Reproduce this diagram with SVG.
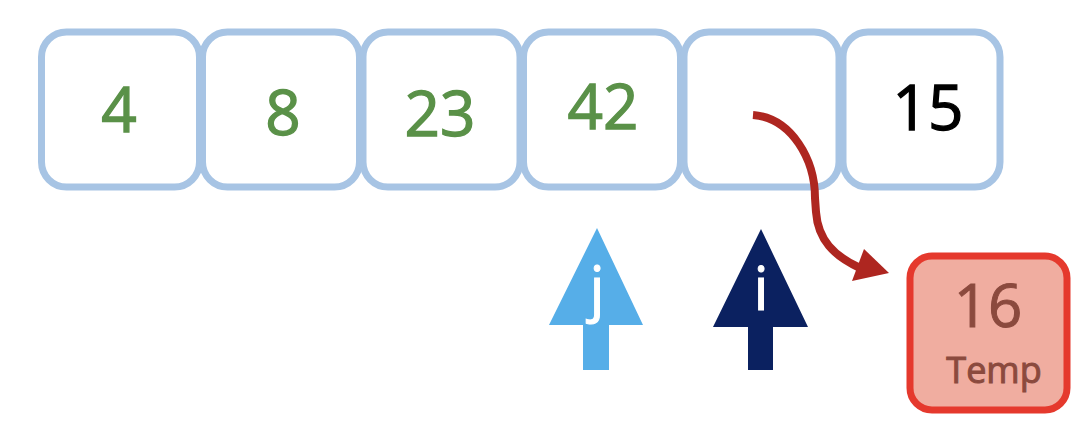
<svg xmlns="http://www.w3.org/2000/svg" width="1090" height="442" viewBox="0 0 1090 442">
<style>
.cell{fill:#ffffff;stroke:#a7c4e4;stroke-width:7}
.num{font-family:"Open Sans","Noto Sans",sans-serif;font-size:62px;text-anchor:middle;stroke-width:1.3}
.g{fill:#5a9148;stroke:#5a9148}
.k{fill:#000000;stroke:#000000}
.ptr{font-family:"Open Sans","Noto Sans",sans-serif;font-size:60px;text-anchor:middle;fill:#ffffff;stroke:#ffffff;stroke-width:1}
.tmp{font-family:"Open Sans","Noto Sans",sans-serif;text-anchor:middle;fill:#8b4a3e;stroke:#8b4a3e;stroke-width:1}
</style>
<rect width="1090" height="442" fill="#ffffff"/>
<g id="cell0"><rect class="cell" x="41.5" y="32" width="158" height="155" rx="25"/><text class="num g" x="119" y="132">4</text></g>
<g id="cell1"><rect class="cell" x="202.5" y="32" width="157" height="155" rx="25"/><text class="num g" x="283" y="135">8</text></g>
<g id="cell2"><rect class="cell" x="363" y="32" width="157" height="155" rx="25"/><text class="num g" x="440" y="136">23</text></g>
<g id="cell3"><rect class="cell" x="523.5" y="32" width="157" height="155" rx="25"/><text class="num g" x="603" y="129">42</text></g>
<g id="cell4"><rect class="cell" x="684" y="32" width="155" height="155" rx="25"/></g>
<g id="cell5"><rect class="cell" x="843" y="32" width="157" height="155" rx="25"/><text class="num k" x="928" y="130">15</text></g>
<g id="temp">
<rect x="910" y="256" width="157" height="154" rx="22" fill="#f0ada0" stroke="#e5392d" stroke-width="7"/>
<text class="tmp" x="988" y="327" font-size="60">16</text>
<text class="tmp" x="994" y="383" font-size="36" stroke-width="0.6">Temp</text>
</g>
<g id="pointer-j">
<polygon points="597,228 643,325 609,325 609,370 583,370 583,325 549,325" fill="#56aee8"/>
<text class="ptr" x="597" y="310">j</text>
</g>
<g id="pointer-i">
<polygon points="761,229 808,327 773,327 773,370 748,370 748,327 713,327" fill="#0b2160"/>
<text class="ptr" x="761" y="310">i</text>
</g>
<g id="connectors">
<path d="M753,115 C792,118 815,160 815,198 L816,212 C818,240 834,256 860,268" fill="none" stroke="#ae2620" stroke-width="8"/>
<polygon points="889,273 852,281 864,249" fill="#ae2620"/>
</g>
</svg>
